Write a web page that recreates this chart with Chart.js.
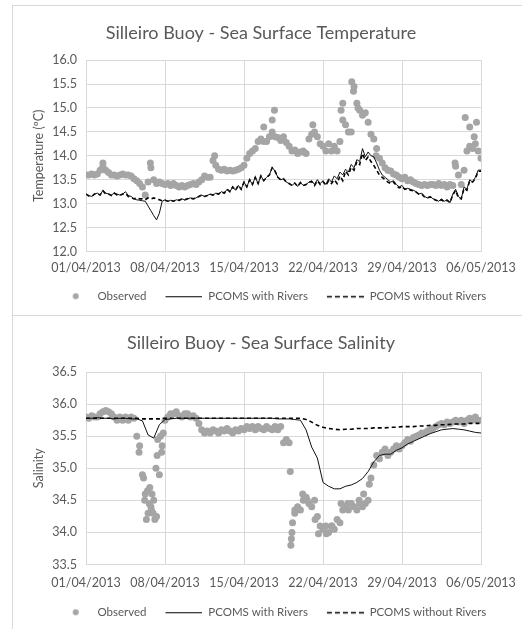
<!DOCTYPE html>
<html>
<head>
<meta charset="utf-8">
<script src="https://cdn.jsdelivr.net/npm/chart.js@4.4.1/dist/chart.umd.min.js"></script>
<style>
html,body{margin:0;padding:0;background:#fff;}
body{width:522px;height:629px;position:relative;overflow:hidden;}
.box{position:absolute;border:1px solid #d9d9d9;box-sizing:border-box;}
#box1{left:12px;top:5px;width:530px;height:311px;}
#box2{left:12px;top:315px;width:530px;height:330px;}
canvas{position:absolute;}
#c1{left:13px;top:6px;}
#c2{left:13px;top:316px;}
</style>
</head>
<body>
<div class="box" id="box1"></div>
<div class="box" id="box2"></div>
<canvas id="c1" width="509" height="308"></canvas>
<canvas id="c2" width="509" height="313"></canvas>
<script>
// ---------------- DATA ----------------
const startDate = [2013, 4, 1];           // 01/04/2013 = day 0
const xTickStepDays = 7;
const xMaxDays = 35;
const legendLabels = ['Observed', 'PCOMS with Rivers', 'PCOMS without Rivers'];

// Temperature (ºC), observed every 0.25 day from day 0
const tempObsStep = 0.25;
const tempObs = [
  13.6,13.6,13.62,13.6, 13.62,13.7,13.78,13.7, 13.65,13.6,13.6,13.58, 13.6,13.62,13.6,13.6,
  13.58,13.52,13.48,13.42, 13.35,13.18,13.45,13.75, 13.5,13.42,13.45,13.42, 13.4,13.42,13.38,13.42,
  13.38,13.35,13.38,13.35, 13.38,13.4,13.42,13.4, 13.45,13.5,13.58,13.55, 13.55,13.9,13.8,13.72,
  13.7,13.72,13.68,13.7, 13.68,13.7,13.72,13.75, 13.8,13.95,14.05,14.1, 14.15,14.3,14.35,14.3,
  14.3,14.4,14.5,14.4, 14.38,14.32,14.4,14.28, 14.2,14.1,14.12,14.05, 14.08,14.1,14.05,14.35,
  14.45,14.5,14.4,14.25, 14.2,14.1,14.25,14.1, 14.2,14.1,14.3,14.75, 14.65,14.5,14.5,15.45,
  15.1,14.95,14.85,14.9, 14.7,14.45,14.35,14.15, 13.95,13.85,13.75,13.7, 13.68,13.62,13.6,13.55,
  13.52,13.55,13.48,13.5, 13.45,13.42,13.4,13.38, 13.4,13.38,13.4,13.4, 13.38,13.42,13.38,13.4,
  13.35,13.4,13.38,13.78, 13.6,13.4,13.7,14.1, 14.2,14.15,14.25,14.1, 13.95
];
const tempObsExtraDays = [1.5, 5.7, 11.4, 15.75, 16.5, 16.7, 20.1, 22.6, 22.75, 23.55, 23.7, 24.1, 25.7, 32.7, 33.6, 34.0, 34.4, 34.6];
const tempObsExtra     = [13.85, 13.85, 14.0, 14.6, 14.75, 14.95, 14.65, 14.95, 15.1, 15.55, 15.35, 15.0, 14.0, 13.85, 14.8, 14.6, 14.4, 14.7];

// Temperature models, every 0.25 day from day 0
const tempModelStep = 0.25;
const tempWithRivers = [
  13.2,13.17,13.15,13.2, 13.22,13.18,13.28,13.22, 13.2,13.18,13.22,13.2, 13.18,13.2,13.25,13.17,
  13.15,13.1,13.08,13.07, 13.06,13.05,12.95,12.85, 12.75,12.66,12.8,13.05, 13.08,13.05,13.07,13.05,
  13.08,13.07,13.1,13.08, 13.1,13.12,13.1,13.12, 13.15,13.18,13.15,13.17, 13.2,13.18,13.22,13.2,
  13.25,13.22,13.3,13.25, 13.35,13.28,13.38,13.3, 13.45,13.35,13.5,13.4, 13.55,13.42,13.58,13.48,
  13.55,13.6,13.76,13.68, 13.55,13.5,13.52,13.45, 13.42,13.38,13.43,13.36, 13.44,13.38,13.4,13.45,
  13.48,13.4,13.5,13.42, 13.48,13.4,13.52,13.45, 13.58,13.52,13.66,13.6, 13.72,13.66,13.82,13.75,
  13.92,13.88,14.15,13.98, 14.08,14.0,13.98,13.85, 13.7,13.6,13.55,13.5, 13.45,13.48,13.4,13.35,
  13.38,13.3,13.32,13.3, 13.28,13.25,13.2,13.22, 13.15,13.12,13.15,13.1, 13.08,13.05,13.1,13.05,
  13.08,13.02,13.2,13.3, 13.15,13.1,13.35,13.3, 13.5,13.45,13.55,13.7, 13.7
];
const tempWithoutRivers = [
  13.2,13.16,13.15,13.2, 13.21,13.18,13.27,13.2, 13.2,13.17,13.22,13.18, 13.17,13.2,13.22,13.15,
  13.13,13.1,13.12,13.1, 13.1,13.08,13.12,13.1, 13.12,13.1,13.08,13.06, 13.07,13.05,13.07,13.05,
  13.08,13.07,13.1,13.08, 13.1,13.12,13.1,13.12, 13.15,13.18,13.15,13.17, 13.2,13.18,13.22,13.2,
  13.25,13.22,13.3,13.25, 13.35,13.28,13.38,13.3, 13.45,13.35,13.5,13.4, 13.55,13.42,13.58,13.48,
  13.55,13.6,13.75,13.68, 13.55,13.5,13.52,13.45, 13.42,13.38,13.43,13.36, 13.44,13.38,13.4,13.45,
  13.46,13.38,13.48,13.4, 13.46,13.38,13.48,13.42, 13.5,13.42,13.58,13.48, 13.68,13.6,13.76,13.7,
  13.88,13.82,14.05,13.9, 13.98,13.88,13.8,13.7, 13.6,13.55,13.5,13.45, 13.42,13.45,13.38,13.33,
  13.36,13.3,13.32,13.28, 13.27,13.24,13.2,13.2, 13.14,13.12,13.14,13.1, 13.07,13.05,13.08,13.04,
  13.07,13.02,13.18,13.28, 13.12,13.1,13.32,13.28, 13.48,13.45,13.52,13.68, 13.68
];

// Salinity, observed every 0.25 day from day 0
const salObsStep = 0.25;
const salObs = [
  35.8,35.78,35.82,35.8, 35.8,35.85,35.88,35.9, 35.88,35.85,35.8,35.75, 35.8,35.75,35.8,35.75,
  35.8,35.78,35.5,35.35, 34.9,34.6,34.3,34.4, 34.5,34.25,34.9,35.35, 35.75,35.8,35.85,35.85,
  35.88,35.82,35.8,35.85, 35.85,35.8,35.82,35.78, 35.7,35.6,35.55,35.58, 35.55,35.6,35.58,35.55,
  35.6,35.58,35.62,35.58, 35.55,35.6,35.58,35.62, 35.6,35.65,35.62,35.65, 35.6,35.65,35.62,35.6,
  35.65,35.62,35.6,35.65, 35.6,35.65,35.4,35.45, 35.4,34.0,34.3,34.4, 34.35,34.5,34.55,34.45,
  34.4,34.5,34.25,34.1, 34.05,34.1,34.0,34.1, 34.05,34.2,34.15,34.35, 34.4,34.35,34.45,34.4,
  34.35,34.45,34.4,34.45, 34.5,34.85,35.05,35.2, 35.15,35.25,35.3,35.2, 35.25,35.3,35.35,35.3,
  35.35,35.4,35.45,35.42, 35.48,35.5,35.52,35.55, 35.55,35.58,35.6,35.62, 35.65,35.68,35.7,35.68,
  35.72,35.7,35.72,35.75, 35.72,35.75,35.7,35.75, 35.78,35.75,35.8,35.75, 35.75
];
const salObsExtraDays = [4.7, 5.1, 5.2, 5.35, 5.45, 5.6, 5.65, 5.8, 5.85, 5.95, 6.1, 6.2, 6.3, 6.35, 6.6, 6.7, 6.85,
  18.1, 18.15, 18.2, 18.3, 18.5, 19.2, 19.6, 20.3, 20.6, 21.3, 21.8, 22.6, 23.2, 24.2, 24.6, 25.1];
const salObsExtra = [35.25, 34.85, 34.5, 34.2, 34.65, 34.45, 34.7, 34.35, 34.6, 34.3, 34.2, 35.0, 35.2, 35.45, 35.5, 35.25, 35.55,
  34.95, 33.8, 33.9, 34.15, 34.35, 34.6, 34.5, 34.2, 33.98, 33.98, 34.1, 34.45, 34.45, 34.5, 34.6, 34.75];

// Salinity models, every 0.5 day from day 0
const salModelStep = 0.5;
const salWithRivers = [
  35.78,35.78,35.79,35.78,35.78,35.77,35.78,35.78,35.77,35.77,
  35.74,35.52,35.47,35.68,
  35.76,35.77,35.78,35.78,35.78,35.78,35.78,35.78,35.78,35.78,35.78,35.78,35.78,35.78,35.78,35.78,35.78,35.78,35.78,35.78,35.77,35.77,35.77,35.76,35.75,
  35.6,35.33,35.16,34.78,34.72,34.68,34.68,34.72,34.74,34.78,34.84,34.95,35.1,35.2,35.22,35.22,
  35.28,35.32,35.38,35.42,35.46,35.5,35.54,35.57,35.6,35.61,35.62,35.61,35.6,35.58,35.56,35.55
];
const salWithoutRivers = [
  35.78,35.78,35.78,35.78,35.78,35.78,35.78,35.78,35.78,35.78,
  35.77,35.77,35.77,35.77,
  35.78,35.78,35.78,35.78,35.78,35.78,35.78,35.78,35.78,35.78,35.78,35.78,35.78,35.78,35.78,35.78,35.78,35.78,35.78,35.78,35.78,35.78,35.78,35.78,35.78,
  35.76,35.72,35.67,35.64,35.62,35.61,35.6,35.61,35.61,35.62,35.62,35.62,35.63,35.63,35.63,35.64,
  35.64,35.65,35.65,35.65,35.66,35.66,35.67,35.67,35.68,35.68,35.69,35.69,35.69,35.7,35.7,35.7
];

// ---------------- STYLE ----------------
const FONT = 'Lato, "Liberation Sans", sans-serif';
const TXT = '#595959';
const GRID = '#d9d9d9';
const OBS_COLOR = '#a5a5a5';
const ICON_W = 56;

Chart.defaults.font.family = FONT;
Chart.defaults.color = TXT;

function series(step, vals) { return vals.map((v, i) => ({ x: i * step, y: v })); }
function pairs(days, vals) { return days.map((d, i) => ({ x: d, y: vals[i] })); }
function pad2(n) { return (n < 10 ? '0' : '') + n; }
function dayLabel(v) {
  const d = new Date(Date.UTC(startDate[0], startDate[1] - 1, startDate[2]) + v * 86400000);
  return pad2(d.getUTCDate()) + '/' + pad2(d.getUTCMonth() + 1) + '/' + d.getUTCFullYear();
}
function legendIcon(kind) {
  const c = document.createElement('canvas');
  c.width = ICON_W; c.height = 12;
  const g = c.getContext('2d');
  if (kind === 'dot') {
    g.fillStyle = OBS_COLOR; g.beginPath(); g.arc(40, 6, 3, 0, Math.PI * 2); g.fill();
  } else {
    g.strokeStyle = '#000';
    g.lineWidth = kind === 'dash' ? 1.6 : 1;
    if (kind === 'dash') g.setLineDash([5, 3]);
    g.beginPath(); g.moveTo(19, 6.5); g.lineTo(ICON_W, 6.5); g.stroke();
  }
  return c;
}
const icons = [legendIcon('dot'), legendIcon('line'), legendIcon('dash')];

function makeChart(id, cfg) {
  const obs = series(cfg.obsStep, cfg.obs).concat(pairs(cfg.extraDays, cfg.extra)).sort((a, b) => a.x - b.x);
  return new Chart(document.getElementById(id), {
    type: 'scatter',
    data: {
      datasets: [
        { label: legendLabels[0], data: obs, showLine: false, pointRadius: 3.5, pointHoverRadius: 3.5,
          pointBackgroundColor: OBS_COLOR, pointBorderWidth: 0, backgroundColor: OBS_COLOR, borderColor: OBS_COLOR, order: 2 },
        { label: legendLabels[1], data: series(cfg.modelStep, cfg.withR), showLine: true, pointRadius: 0,
          borderColor: '#111', borderWidth: 1, tension: 0, order: 0 },
        { label: legendLabels[2], data: series(cfg.modelStep, cfg.withoutR), showLine: true, pointRadius: 0,
          borderColor: '#000', borderWidth: 1.6, borderDash: [4, 3], tension: 0, order: 1 }
      ]
    },
    options: {
      responsive: false, animation: false, events: [],
      layout: { padding: { left: 0, right: 13, top: 0, bottom: cfg.padBottom } },
      plugins: {
        tooltip: { enabled: false },
        title: { display: true, text: cfg.title, color: TXT,
          font: { size: 18, weight: 'normal', family: FONT }, padding: cfg.titlePad },
        legend: {
          position: 'bottom',
          labels: {
            usePointStyle: true, pointStyleWidth: ICON_W, padding: 0, color: TXT,
            font: { size: 11.5, family: FONT },
            sort: (a, b) => a.datasetIndex - b.datasetIndex,
            generateLabels: (chart) => {
              const items = Chart.defaults.plugins.legend.labels.generateLabels(chart);
              items.forEach(it => { it.pointStyle = icons[it.datasetIndex]; });
              return items;
            }
          }
        }
      },
      scales: {
        x: {
          type: 'linear', min: 0, max: xMaxDays,
          grid: { color: GRID, drawTicks: false },
          border: { color: GRID },
          ticks: { stepSize: xTickStepDays, autoSkip: false, maxRotation: 0, padding: cfg.xTickPad,
            color: TXT, font: { size: 12.5 }, callback: v => dayLabel(v) },
          afterFit: s => { s.height = cfg.xHeight; s.paddingRight = 41; }
        },
        y: {
          min: cfg.yMin, max: cfg.yMax,
          grid: { color: GRID, drawTicks: false },
          border: { color: GRID },
          ticks: { stepSize: 0.5, padding: 9, color: TXT, font: { size: 12.5 }, callback: v => Number(v).toFixed(1) },
          title: { display: true, text: cfg.yTitle, color: TXT, font: { size: 12.5 }, padding: { top: 18, bottom: 0 } },
          afterFit: s => { s.width = 73; }
        }
      }
    }
  });
}

makeChart('c1', {
  title: 'Silleiro Buoy - Sea Surface Temperature', yTitle: 'Temperature (ºC)',
  yMin: 12, yMax: 16,
  obsStep: tempObsStep, obs: tempObs, extraDays: tempObsExtraDays, extra: tempObsExtra,
  modelStep: tempModelStep, withR: tempWithRivers, withoutR: tempWithoutRivers,
  titlePad: { top: 16, bottom: 16.5 }, padBottom: 2, xHeight: 39, xTickPad: 9
});
makeChart('c2', {
  title: 'Silleiro Buoy - Sea Surface Salinity', yTitle: 'Salinity',
  yMin: 33.5, yMax: 36.5,
  obsStep: salObsStep, obs: salObs, extraDays: salObsExtraDays, extra: salObsExtra,
  modelStep: salModelStep, withR: salWithRivers, withoutR: salWithoutRivers,
  titlePad: { top: 16, bottom: 18.5 }, padBottom: 1, xHeight: 42, xTickPad: 11
});
</script>
</body>
</html>
